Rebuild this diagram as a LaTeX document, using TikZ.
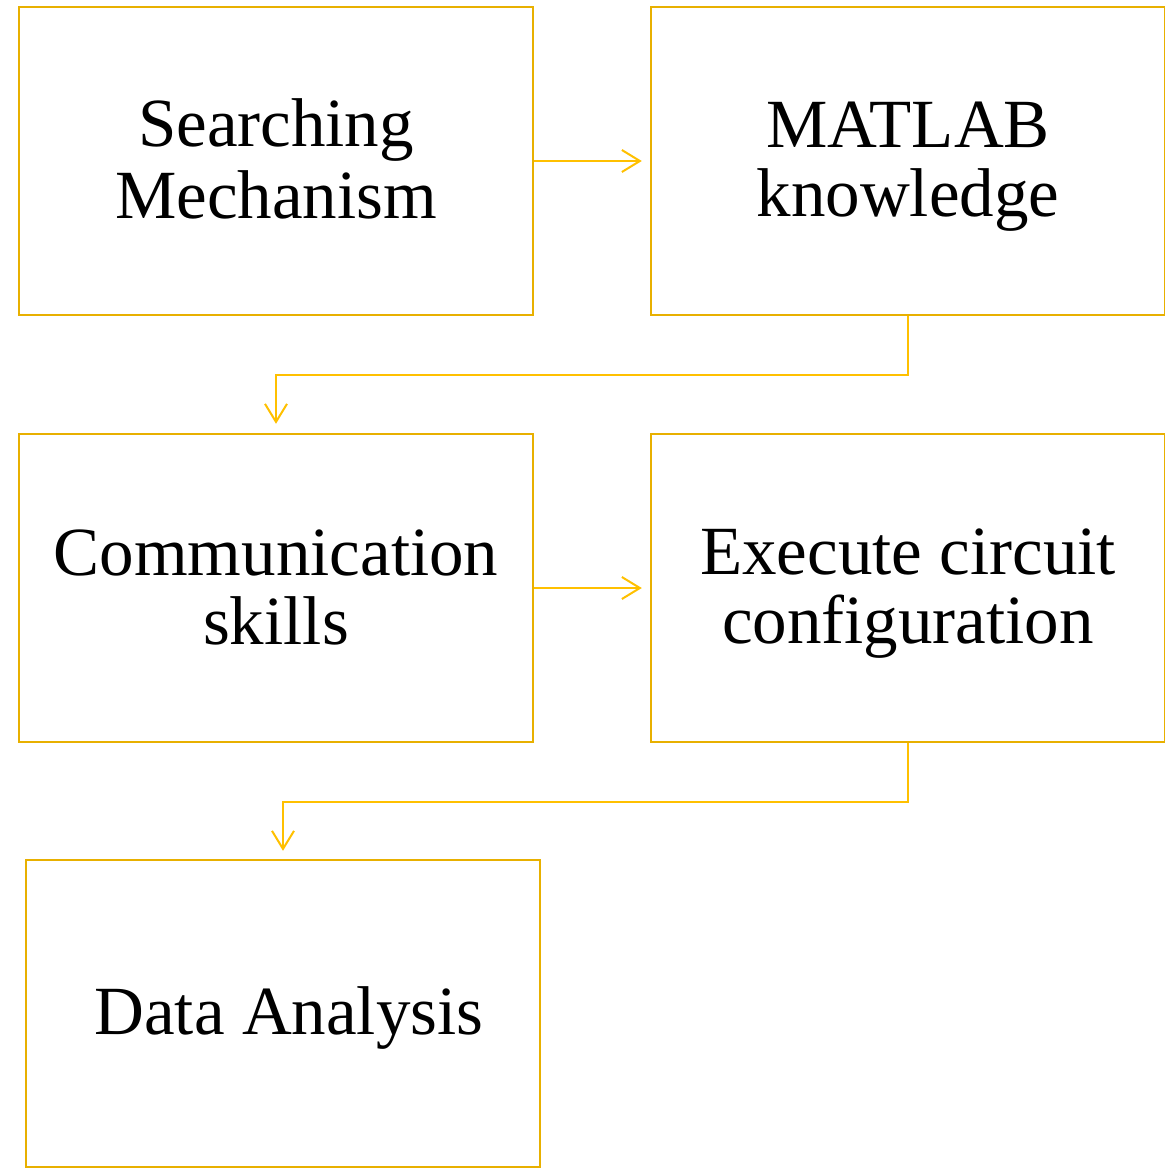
\documentclass[tikz,border=0pt]{standalone}
\usepackage{fontspec}
\setmainfont{Liberation Serif}
\usetikzlibrary{positioning,calc,arrows.meta}
\definecolor{boxgold}{RGB}{232,176,0}
\definecolor{arrowgold}{RGB}{255,192,0}
\newcommand{\boxstrut}{\rule[-6.5pt]{0pt}{34.5pt}}

\begin{document}
\begin{tikzpicture}[x=0.5pt, y=-0.5pt,
    skillbox/.style={draw=boxgold, line width=1.2pt, minimum width=257pt,
        minimum height=154pt, align=center, inner sep=0pt,
        font=\fontsize{34.5}{34.5}\selectfont},
    flow/.style={draw=arrowgold, line width=1pt,
        -{Straight Barb[length=9pt,width=11pt]}}]
    \useasboundingbox (0,0) rectangle (1165,1168);

    \node[skillbox] (search) at (276,161) {\boxstrut Searching\\\boxstrut Mechanism};
    \node[skillbox] (matlab) at (908,161) {\boxstrut MATLAB\\\boxstrut knowledge};
    \node[skillbox] (comm) at (276,588) {\boxstrut Communication\\\boxstrut skills};
    \node[skillbox] (exec) at (908,588) {\boxstrut Execute circuit\\\boxstrut configuration};
    \node[skillbox, minimum height=153.5pt] (data) at (283,1013.5) {};
    \node[font=\fontsize{34.5}{34.5}\selectfont, inner sep=0pt]
        at ([xshift=3pt]data.center) {\boxstrut Data Analysis};

    \draw[flow, shorten >=4pt] (search) -- (matlab);
    \draw[flow, shorten >=4pt] (comm) -- (exec);
    \draw[flow, shorten >=4.5pt] (matlab.south) -- ++(0,59) -| (comm.north);
    \draw[flow, shorten >=4pt] (exec.south) -- ++(0,59) -| (data.north);

\end{tikzpicture}
\end{document}
